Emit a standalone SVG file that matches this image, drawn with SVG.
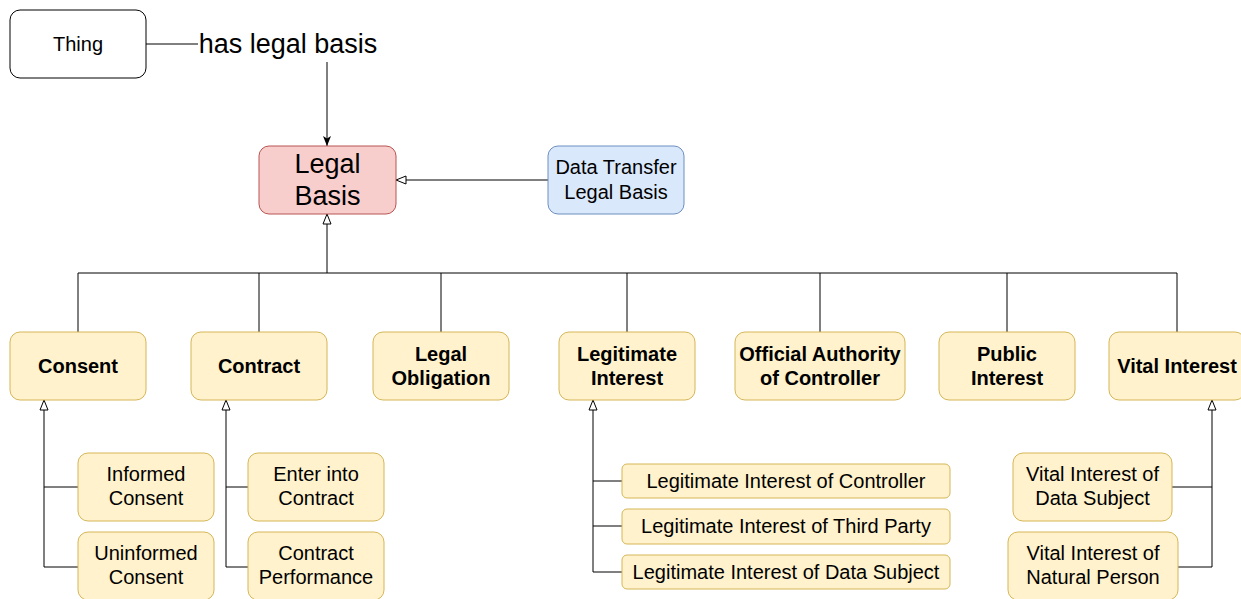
<svg xmlns="http://www.w3.org/2000/svg" width="1241" height="599" viewBox="0 0 1241 599">
<style>
text{font-family:"Liberation Sans",Arial,sans-serif;fill:#000;text-anchor:middle}
.t20{font-size:20px}
.b20{font-size:20px;font-weight:bold}
.t27{font-size:27px}
.y{fill:#fff2cc;stroke:#d6b656;stroke-width:1}
.c{fill:none;stroke:#000;stroke-width:1}
</style>
<defs>
<marker id="fill" viewBox="0 0 10 10" refX="10" refY="5" markerWidth="10" markerHeight="10" markerUnits="userSpaceOnUse" orient="auto">
<path d="M0,1 L10,5 L0,9 L2.5,5 z" fill="#000"/>
</marker>
<marker id="hollow" viewBox="0 0 12 12" refX="11" refY="6" markerWidth="12" markerHeight="12" markerUnits="userSpaceOnUse" orient="auto">
<path d="M1,2 L11,6 L1,10 z" fill="#fff" stroke="#000" stroke-width="1"/>
</marker>
</defs>
<rect width="1241" height="599" fill="#fff"/>
<g id="connectors">
<path class="c" d="M146,44 H198"/>
<path class="c" d="M327,62 V146" marker-end="url(#fill)"/>
<path class="c" d="M548,180 H396" marker-end="url(#hollow)"/>
<path class="c" d="M78,332 V273 H1177 V332"/>
<path class="c" d="M259,273 V332 M441,273 V332 M627,273 V332 M820,273 V332 M1007,273 V332"/>
<path class="c" d="M327,273 V214" marker-end="url(#hollow)"/>
<path class="c" d="M78,487 H44 M78,567 H44 V400" marker-end="url(#hollow)"/>
<path class="c" d="M248,487 H226 M248,567 H226 V400" marker-end="url(#hollow)"/>
<path class="c" d="M622,481 H593 M622,526 H593 M622,572 H593 V400" marker-end="url(#hollow)"/>
<path class="c" d="M1172,487 H1212 M1178,567 H1212 V400" marker-end="url(#hollow)"/>
</g>
<g id="thing">
<rect x="10" y="10" width="136" height="68" rx="10" fill="#fff" stroke="#000"/>
<text class="t20" x="78" y="51">Thing</text>
</g>
<g id="has-legal-basis">
<text class="t27" x="288" y="53">has legal basis</text>
</g>
<g id="legal-basis">
<rect x="259" y="146" width="137" height="68" rx="10" fill="#f8cecc" stroke="#b85450"/>
<text class="t27" x="327.5" y="173">Legal</text>
<text class="t27" x="327.5" y="205">Basis</text>
</g>
<g id="data-transfer">
<rect x="548" y="146" width="136" height="68" rx="10" fill="#dae8fc" stroke="#6c8ebf"/>
<text class="t20" x="616" y="174">Data Transfer</text>
<text class="t20" x="616" y="199">Legal Basis</text>
</g>
<g id="consent">
<rect class="y" x="10" y="332" width="136" height="68" rx="10"/>
<text class="b20" x="78" y="373">Consent</text>
</g>
<g id="contract">
<rect class="y" x="191" y="332" width="136" height="68" rx="10"/>
<text class="b20" x="259" y="373">Contract</text>
</g>
<g id="legal-obligation">
<rect class="y" x="373" y="332" width="136" height="68" rx="10"/>
<text class="b20" x="441" y="361">Legal</text>
<text class="b20" x="441" y="385">Obligation</text>
</g>
<g id="legitimate-interest">
<rect class="y" x="559" y="332" width="136" height="68" rx="10"/>
<text class="b20" x="627" y="361">Legitimate</text>
<text class="b20" x="627" y="385">Interest</text>
</g>
<g id="official-authority">
<rect class="y" x="735" y="332" width="170" height="68" rx="10"/>
<text class="b20" x="820" y="361">Official Authority</text>
<text class="b20" x="820" y="385">of Controller</text>
</g>
<g id="public-interest">
<rect class="y" x="939" y="332" width="136" height="68" rx="10"/>
<text class="b20" x="1007" y="361">Public</text>
<text class="b20" x="1007" y="385">Interest</text>
</g>
<g id="vital-interest">
<rect class="y" x="1109" y="332" width="136" height="68" rx="10"/>
<text class="b20" x="1177" y="373">Vital Interest</text>
</g>
<g id="informed-consent">
<rect class="y" x="78" y="453" width="136" height="68" rx="10"/>
<text class="t20" x="146" y="481">Informed</text>
<text class="t20" x="146" y="505">Consent</text>
</g>
<g id="uninformed-consent">
<rect class="y" x="78" y="532" width="136" height="68" rx="10"/>
<text class="t20" x="146" y="560">Uninformed</text>
<text class="t20" x="146" y="584">Consent</text>
</g>
<g id="enter-into-contract">
<rect class="y" x="248" y="453" width="136" height="68" rx="10"/>
<text class="t20" x="316" y="481">Enter into</text>
<text class="t20" x="316" y="505">Contract</text>
</g>
<g id="contract-performance">
<rect class="y" x="248" y="532" width="136" height="68" rx="10"/>
<text class="t20" x="316" y="560">Contract</text>
<text class="t20" x="316" y="584">Performance</text>
</g>
<g id="li-controller">
<rect class="y" x="622" y="464" width="328" height="34" rx="5"/>
<text class="t20" x="786" y="488">Legitimate Interest of Controller</text>
</g>
<g id="li-third-party">
<rect class="y" x="622" y="509" width="328" height="35" rx="5"/>
<text class="t20" x="786" y="533">Legitimate Interest of Third Party</text>
</g>
<g id="li-data-subject">
<rect class="y" x="622" y="555" width="328" height="34" rx="5"/>
<text class="t20" x="786" y="579">Legitimate Interest of Data Subject</text>
</g>
<g id="vi-data-subject">
<rect class="y" x="1013" y="453" width="159" height="68" rx="10"/>
<text class="t20" x="1092.5" y="481">Vital Interest of</text>
<text class="t20" x="1092.5" y="505">Data Subject</text>
</g>
<g id="vi-natural-person">
<rect class="y" x="1008" y="532" width="170" height="68" rx="10"/>
<text class="t20" x="1093" y="560">Vital Interest of</text>
<text class="t20" x="1093" y="584">Natural Person</text>
</g>
</svg>
